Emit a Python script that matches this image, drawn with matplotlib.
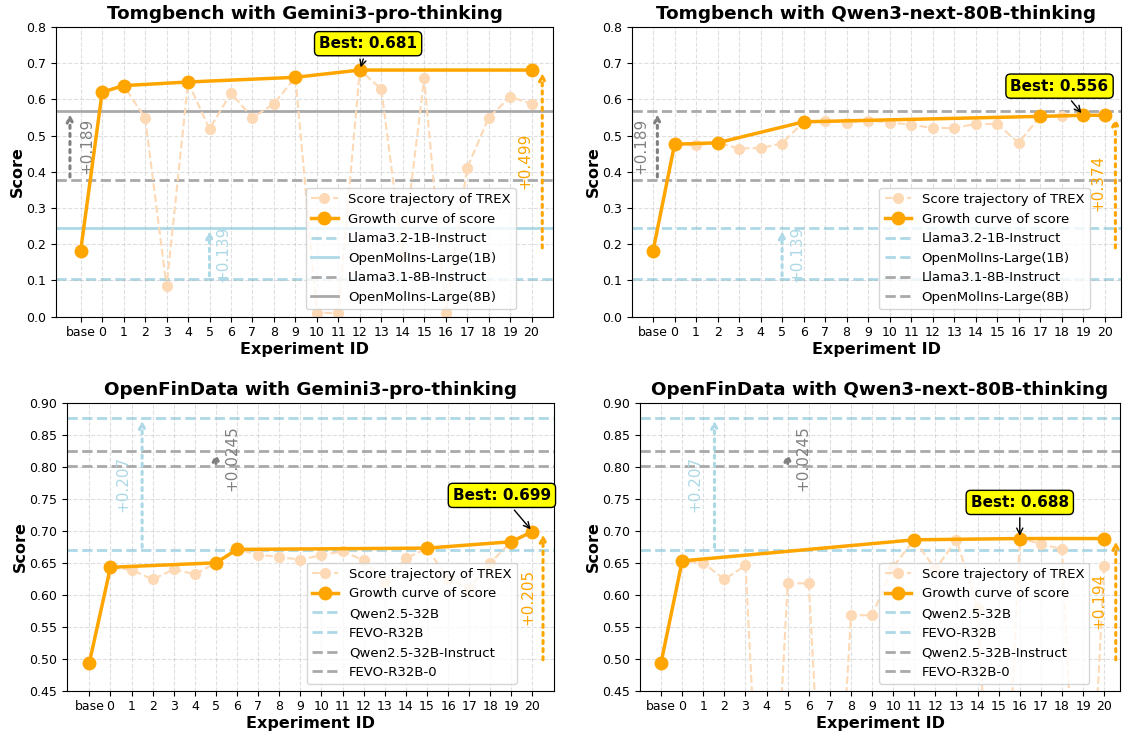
import matplotlib
matplotlib.use('Agg')
import matplotlib.pyplot as plt

# x axis: "base" then experiments 0..20
x_labels = ['base'] + [str(i) for i in range(21)]

# ---- Tomgbench / Gemini3-pro-thinking
tg_gem_base = 0.182
tg_gem_traj = [0.620, 0.638, 0.549, 0.083, 0.648, 0.518, 0.618, 0.549, 0.588, 0.661,
               0.011, 0.009, 0.681, 0.629, 0.170, 0.658, 0.009, 0.410, 0.549, 0.607, 0.588]
tg_gem_grow_ids = [0, 1, 4, 9, 12, 20]
tg_gem_grow_vals = [0.620, 0.638, 0.648, 0.661, 0.681, 0.681]

# ---- Tomgbench / Qwen3-next-80B-thinking
tg_qwen_base = 0.182
tg_qwen_traj = [0.476, 0.473, 0.480, 0.464, 0.466, 0.478, 0.538, 0.540, 0.536, 0.541,
                0.536, 0.530, 0.521, 0.521, 0.532, 0.532, 0.480, 0.553, 0.553, 0.556, 0.556]
tg_qwen_grow_ids = [0, 2, 6, 17, 19, 20]
tg_qwen_grow_vals = [0.476, 0.480, 0.538, 0.553, 0.556, 0.556]

# ---- OpenFinData / Gemini3-pro-thinking
fin_gem_base = 0.494
fin_gem_traj = [0.643, 0.639, 0.624, 0.640, 0.632, 0.650, 0.671, 0.663, 0.659, 0.655,
                0.662, 0.668, 0.654, 0.620, 0.657, 0.673, 0.625, 0.610, 0.650, 0.683, 0.699]
fin_gem_grow_ids = [0, 5, 6, 15, 19, 20]
fin_gem_grow_vals = [0.643, 0.650, 0.671, 0.673, 0.683, 0.699]

# ---- OpenFinData / Qwen3-next-80B-thinking
fin_qwen_base = 0.494
fin_qwen_traj = [0.653, 0.650, 0.624, 0.646, 0.0, 0.618, 0.618, 0.0, 0.568, 0.568,
                 0.644, 0.686, 0.640, 0.686, 0.580, 0.0, 0.688, 0.680, 0.671, 0.0, 0.645]
fin_qwen_grow_ids = [0, 11, 16, 20]
fin_qwen_grow_vals = [0.653, 0.686, 0.688, 0.688]

# reference models
tg_ref_names = ['Llama3.2-1B-Instruct', 'OpenMolIns-Large(1B)', 'Llama3.1-8B-Instruct', 'OpenMolIns-Large(8B)']
tg_ref_vals = [0.105, 0.244, 0.378, 0.567]
fin_ref_names = ['Qwen2.5-32B', 'FEVO-R32B', 'Qwen2.5-32B-Instruct', 'FEVO-R32B-0']
fin_ref_vals = [0.670, 0.877, 0.801, 0.8255]

ref_colors = ['lightblue', 'lightblue', 'darkgray', 'darkgray']

W, H = 1128, 738
fig = plt.figure(figsize=(W / 100, H / 100), dpi=100)


def px_axes(l, r, t, b):
    return fig.add_axes([l / W, 1 - b / H, (r - l) / W, (b - t) / H])


def draw(ax, title, base, traj, gids, gvals, ref_names, ref_vals, ref_styles,
         ylim, yticks, xlim, deltas, best_off, leg_anchor):
    xs = list(range(len(traj) + 1))
    ax.plot(xs, [base] + traj, '--o', color='#FDD9B5', lw=1.5, ms=7,
            label='Score trajectory of TREX', zorder=2)
    ax.plot([0] + [g + 1 for g in gids], [base] + gvals, '-o', color='orange',
            lw=2.5, ms=9, label='Growth curve of score', zorder=4)
    for nm, v, c, st in zip(ref_names, ref_vals, ref_colors, ref_styles):
        ax.axhline(v, color=c, ls=st, lw=2, label=nm, zorder=1)

    # delta arrows
    for x, y0, y1, c, tx, txt in deltas:
        ax.annotate('', xy=(x, y1), xytext=(x, y0),
                    arrowprops=dict(arrowstyle='->', color=c, lw=2.2, ls=':'))
        ax.text(tx, (y0 + y1) / 2, txt, rotation=90, color=c, fontsize=11,
                ha='center', va='center')

    # best point
    best = max(gvals)
    bi = gids[gvals.index(best)] + 1
    ax.annotate('Best: %.3f' % best, xy=(bi, best), xytext=best_off,
                textcoords='offset points', ha='center', va='center',
                fontsize=11, fontweight='bold',
                bbox=dict(boxstyle='round,pad=0.3', fc='yellow', ec='black'),
                arrowprops=dict(arrowstyle='->', color='black'), zorder=6)

    ax.set_xticks(xs)
    ax.set_xticklabels(x_labels, fontsize=9)
    ax.set_yticks(yticks)
    ax.tick_params(axis='y', labelsize=9)
    ax.set_xlim(xlim)
    ax.set_ylim(ylim)
    ax.grid(True, ls='--', alpha=0.4)
    ax.set_title(title, fontsize=13.2, fontweight='bold')
    ax.set_xlabel('Experiment ID', fontsize=11.5, fontweight='bold', labelpad=2)
    ax.set_ylabel('Score', fontsize=11.5, fontweight='bold', labelpad=1)
    ax.legend(loc='lower left', bbox_to_anchor=leg_anchor, borderaxespad=0,
              fontsize=9.5, framealpha=0.8)


tg_ticks = [i / 10 for i in range(9)]
fin_ticks = [0.45 + i * 0.05 for i in range(10)]

ax1 = px_axes(56, 553, 27, 316.5)
draw(ax1, 'Tomgbench with Gemini3-pro-thinking', tg_gem_base, tg_gem_traj,
     tg_gem_grow_ids, tg_gem_grow_vals, tg_ref_names, tg_ref_vals, ['--', '-', '--', '-'],
     (0, 0.8), tg_ticks, (-1.15, 22.0),
     [(-0.5, 0.378, 0.567, 'gray', 0.3, '+0.189'),
      (6.0, 0.105, 0.244, 'lightblue', 6.6, '+0.139'),
      (21.5, 0.182, 0.681, 'orange', 20.7, '+0.499')],
     (6, 19), (0.503, 0.025))

ax2 = px_axes(632, 1121, 27, 316.5)
draw(ax2, 'Tomgbench with Qwen3-next-80B-thinking', tg_qwen_base, tg_qwen_traj,
     tg_qwen_grow_ids, tg_qwen_grow_vals, tg_ref_names, tg_ref_vals, ['--'] * 4,
     (0, 0.8), tg_ticks, (-0.98, 21.76),
     [(0.2, 0.378, 0.567, 'gray', -0.55, '+0.189'),
      (6.0, 0.105, 0.244, 'lightblue', 6.7, '+0.139'),
      (21.5, 0.182, 0.556, 'orange', 20.7, '+0.374')],
     (-17, 21), (0.506, 0.025))

ax3 = px_axes(67, 554, 403, 690.7)
draw(ax3, 'OpenFinData with Gemini3-pro-thinking', fin_gem_base, fin_gem_traj,
     fin_gem_grow_ids, fin_gem_grow_vals, fin_ref_names, fin_ref_vals, ['--'] * 4,
     (0.45, 0.90), fin_ticks, (-1.06, 22.02),
     [(2.5, 0.670, 0.877, 'lightblue', 1.6, '+0.207'),
      (6.0, 0.801, 0.8255, 'gray', 6.76, '+0.0245'),
      (21.5, 0.494, 0.699, 'orange', 20.8, '+0.205')],
     (-22, 26), (0.492, 0.023))

ax4 = px_axes(640, 1120, 403, 690.7)
draw(ax4, 'OpenFinData with Qwen3-next-80B-thinking', fin_qwen_base, fin_qwen_traj,
     fin_qwen_grow_ids, fin_qwen_grow_vals, fin_ref_names, fin_ref_vals, ['--'] * 4,
     (0.45, 0.90), fin_ticks, (-1.0, 21.75),
     [(2.53, 0.670, 0.877, 'lightblue', 1.6, '+0.207'),
      (6.0, 0.801, 0.8255, 'gray', 6.74, '+0.0245'),
      (21.55, 0.494, 0.688, 'orange', 20.76, '+0.194')],
     (0, 26), (0.4985, 0.023))

fig.savefig('out.png', dpi=100)
